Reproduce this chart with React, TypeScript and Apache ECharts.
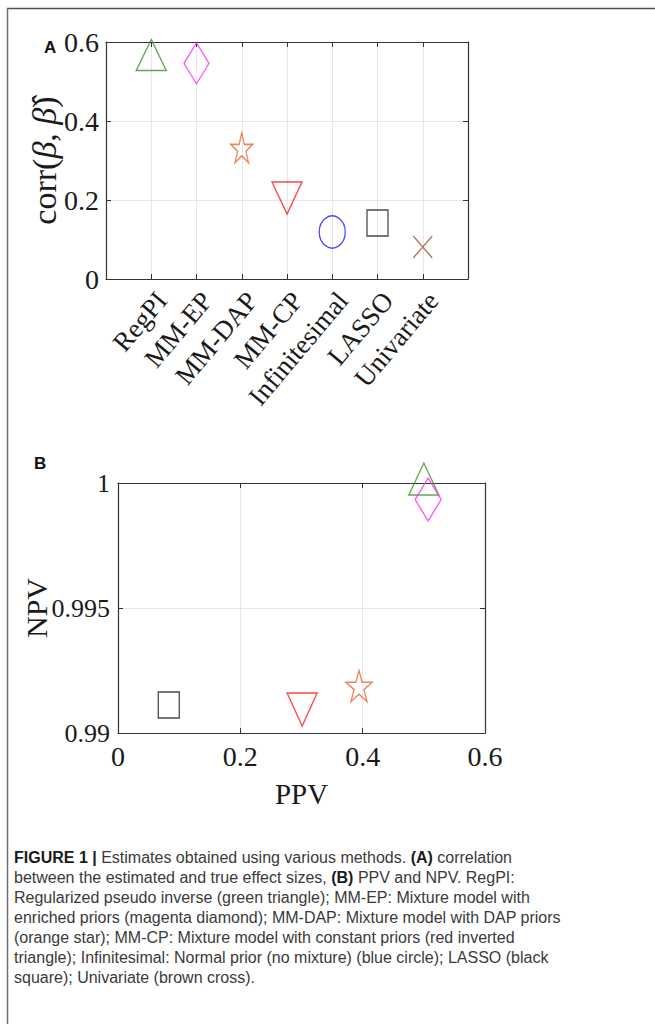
import React, { useEffect, useRef } from 'react';
import * as echarts from 'echarts';

const methods = ['RegPI', 'MM-EP', 'MM-DAP', 'MM-CP', 'Infinitesimal', 'LASSO', 'Univariate'];
const corrValues = [0.567, 0.546, 0.332, 0.205, 0.119, 0.142, 0.081];
const corrTicks = [0, 0.2, 0.4, 0.6];

const ppvMethods = ['RegPI', 'MM-EP', 'MM-DAP', 'MM-CP', 'LASSO'];
const ppvValues = [0.5, 0.507, 0.394, 0.301, 0.083];
const npvValues = [1.00016, 0.99934, 0.99188, 0.99094, 0.99112];
const ppvTicks = [0, 0.2, 0.4, 0.6];
const npvTicks = [0.99, 0.995, 1];

const captionLines = [
  '{b|FIGURE 1 |} Estimates obtained using various methods. {b|(A)} correlation',
  'between the estimated and true effect sizes, {b|(B)} PPV and NPV. RegPI:',
  'Regularized pseudo inverse (green triangle); MM-EP: Mixture model with',
  'enriched priors (magenta diamond); MM-DAP: Mixture model with DAP priors',
  '(orange star); MM-CP: Mixture model with constant priors (red inverted',
  'triangle); Infinitesimal: Normal prior (no mixture) (blue circle); LASSO (black',
  'square); Univariate (brown cross).',
];

const STAR =
  'path://M100,0L122.45,69.1L195.1,69.1L136.3,111.8L158.8,180.9L100,138.2L41.2,180.9L63.7,111.8L4.9,69.1L77.55,69.1Z';
const CROSS = 'path://M0,0L10,10M10,0L0,10';

const markerStyle: Record<string, any> = {
  RegPI: { symbol: 'triangle', color: '#3d8f2e', rotate: 0, sizeA: [30, 31], sizeB: [30, 32] },
  'MM-EP': { symbol: 'diamond', color: '#ff2cff', rotate: 0, sizeA: [25, 41], sizeB: [26, 43] },
  'MM-DAP': { symbol: STAR, color: '#e2652e', rotate: 0, sizeA: [22, 30], sizeB: [26, 31] },
  'MM-CP': { symbol: 'triangle', color: '#ff1a1a', rotate: 180, sizeA: [30, 32], sizeB: [30, 33] },
  Infinitesimal: { symbol: 'circle', color: '#1a1aff', rotate: 0, sizeA: [26, 32], sizeB: [26, 32] },
  LASSO: { symbol: 'rect', color: '#1a1a1a', rotate: 0, sizeA: [21, 26], sizeB: [21, 26] },
  Univariate: { symbol: CROSS, color: '#a0522d', rotate: 0, sizeA: [19, 22], sizeB: [19, 22] },
};

const SERIF = '"Liberation Serif", "Times New Roman", serif';
const SANS = '"Liberation Sans", Arial, sans-serif';
const AXIS_COLOR = '#333333';
const GRID_COLOR = '#e6e6e6';
const TEXT_COLOR = '#1a1a1a';

export default function App() {
  const ref = useRef<HTMLDivElement>(null);

  useEffect(() => {
    document.body.style.margin = '0';
    if (!ref.current) return;
    const chart = echarts.init(ref.current, undefined, { renderer: 'svg' });

    const axisLine = { show: true, onZero: false, lineStyle: { color: AXIS_COLOR, width: 1.2 } };
    const tick = { show: true, inside: true, length: 5, lineStyle: { color: AXIS_COLOR } };
    const labelBase = { fontFamily: SERIF, color: TEXT_COLOR };

    const seriesA = methods.map((m, i) => {
      const s = markerStyle[m];
      return {
        type: 'scatter',
        name: m,
        xAxisIndex: 0,
        yAxisIndex: 0,
        data: [[i + 1, corrValues[i]]],
        symbol: s.symbol,
        symbolSize: s.sizeA,
        symbolRotate: s.rotate,
        itemStyle: { color: 'rgba(0,0,0,0)', borderColor: s.color, borderWidth: 1.4 },
        clip: false,
        silent: true,
        z: 5,
      };
    });

    const seriesB = ppvMethods.map((m, i) => {
      const s = markerStyle[m];
      return {
        type: 'scatter',
        name: m + ' (B)',
        xAxisIndex: 2,
        yAxisIndex: 2,
        data: [[ppvValues[i], npvValues[i]]],
        symbol: s.symbol,
        symbolSize: s.sizeB,
        symbolRotate: s.rotate,
        itemStyle: { color: 'rgba(0,0,0,0)', borderColor: s.color, borderWidth: 1.4 },
        clip: false,
        silent: true,
        z: 5,
      };
    });

    const option: any = {
      animation: false,
      backgroundColor: '#ffffff',
      grid: [
        { left: 106, top: 42, width: 362, height: 237 },
        { left: 118, top: 483, width: 367, height: 250 },
      ],
      xAxis: [
        {
          gridIndex: 0,
          type: 'value',
          position: 'bottom',
          min: 0,
          max: methods.length + 1,
          interval: 1,
          axisLine,
          axisTick: tick,
          splitLine: { show: true, lineStyle: { color: GRID_COLOR } },
          axisLabel: {
            ...labelBase,
            fontSize: 27,
            rotate: 50,
            margin: 8,
            verticalAlign: 'top',
            formatter: (v: number) => methods[Math.round(v) - 1] ?? '',
          },
        },
        {
          gridIndex: 0,
          type: 'value',
          position: 'top',
          min: 0,
          max: methods.length + 1,
          interval: 1,
          axisLine,
          axisTick: tick,
          splitLine: { show: false },
          axisLabel: { show: false },
        },
        {
          gridIndex: 1,
          type: 'value',
          position: 'bottom',
          min: ppvTicks[0],
          max: ppvTicks[ppvTicks.length - 1],
          interval: 0.2,
          axisLine,
          axisTick: tick,
          splitLine: { show: true, lineStyle: { color: GRID_COLOR } },
          axisLabel: { ...labelBase, fontSize: 28, margin: 9 },
          name: 'PPV',
          nameLocation: 'middle',
          nameGap: 46,
          nameMoveOverlap: false,
          nameTextStyle: { fontFamily: SERIF, fontSize: 29, color: TEXT_COLOR },
        },
        {
          gridIndex: 1,
          type: 'value',
          position: 'top',
          min: ppvTicks[0],
          max: ppvTicks[ppvTicks.length - 1],
          interval: 0.2,
          axisLine,
          axisTick: tick,
          splitLine: { show: false },
          axisLabel: { show: false },
        },
      ],
      yAxis: [
        {
          gridIndex: 0,
          type: 'value',
          position: 'left',
          min: corrTicks[0],
          max: corrTicks[corrTicks.length - 1],
          interval: 0.2,
          axisLine,
          axisTick: tick,
          splitLine: { show: true, lineStyle: { color: GRID_COLOR } },
          axisLabel: { ...labelBase, fontSize: 28, margin: 7 },
          name: 'corr({i|β}, {i|β̂})',
          nameLocation: 'middle',
          nameRotate: 90,
          nameGap: 45,
          nameMoveOverlap: false,
          nameTextStyle: {
            fontFamily: SERIF,
            fontSize: 34,
            color: TEXT_COLOR,
            rich: { i: { fontFamily: SERIF, fontSize: 34, fontStyle: 'italic', color: TEXT_COLOR } },
          },
        },
        {
          gridIndex: 0,
          type: 'value',
          position: 'right',
          min: corrTicks[0],
          max: corrTicks[corrTicks.length - 1],
          interval: 0.2,
          axisLine,
          axisTick: tick,
          splitLine: { show: false },
          axisLabel: { show: false },
        },
        {
          gridIndex: 1,
          type: 'value',
          position: 'left',
          min: npvTicks[0],
          max: npvTicks[npvTicks.length - 1],
          interval: 0.005,
          axisLine,
          axisTick: tick,
          splitLine: { show: true, lineStyle: { color: GRID_COLOR } },
          axisLabel: { ...labelBase, fontSize: 26, margin: 8 },
          name: 'NPV',
          nameLocation: 'middle',
          nameRotate: 90,
          nameGap: 67,
          nameMoveOverlap: false,
          nameTextStyle: { fontFamily: SERIF, fontSize: 30, color: TEXT_COLOR },
        },
        {
          gridIndex: 1,
          type: 'value',
          position: 'right',
          min: npvTicks[0],
          max: npvTicks[npvTicks.length - 1],
          interval: 0.005,
          axisLine,
          axisTick: tick,
          splitLine: { show: false },
          axisLabel: { show: false },
        },
      ],
      series: [...seriesA, ...seriesB],
      graphic: [
        {
          type: 'line',
          shape: { x1: 7, y1: 8.5, x2: 655, y2: 8.5 },
          style: { stroke: '#505050', lineWidth: 1.5 },
          silent: true,
        },
        {
          type: 'line',
          shape: { x1: 7.5, y1: 8, x2: 7.5, y2: 1024 },
          style: { stroke: '#707070', lineWidth: 1.5 },
          silent: true,
        },
        {
          type: 'text',
          left: 44,
          top: 39,
          style: { text: 'A', fontFamily: SANS, fontWeight: 'bold', fontSize: 17, fill: '#111' },
          silent: true,
        },
        {
          type: 'text',
          left: 34,
          top: 455,
          style: { text: 'B', fontFamily: SANS, fontWeight: 'bold', fontSize: 17, fill: '#111' },
          silent: true,
        },
        ...captionLines.map((line, k) => ({
          type: 'text',
          x: 14,
          y: 857.5 + k * 20,
          style: {
            text: line,
            fontFamily: SANS,
            fontSize: 16,
            fill: '#3a3a3a',
            verticalAlign: 'middle',
            rich: { b: { fontWeight: 'bold', fontFamily: SANS, fontSize: 16, fill: '#1a1a1a' } },
          },
          silent: true,
        })),
      ],
    };

    chart.setOption(option);
    return () => chart.dispose();
  }, []);

  return <div ref={ref} style={{ width: 655, height: 1024 }} />;
}
